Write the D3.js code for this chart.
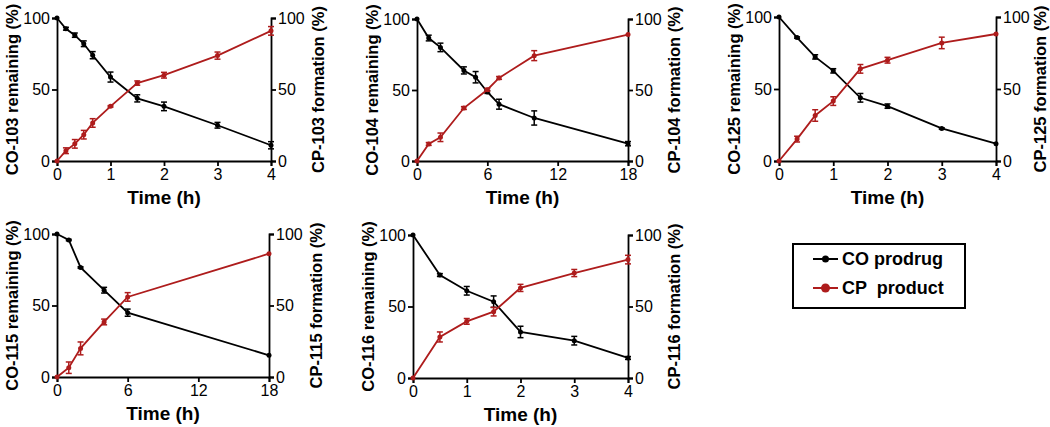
<!DOCTYPE html>
<html>
<head>
<meta charset="utf-8">
<script src="https://cdn.jsdelivr.net/npm/d3@7"></script>
<style>
  html, body { margin: 0; padding: 0; background: #fff; }
  svg { display: block; font-family: "Liberation Sans", Arial, sans-serif; }
</style>
</head>
<body>
<svg id="chart" width="1050" height="427"></svg>
<script>
// ---- Data ----
const t103 = [0, 0.167, 0.333, 0.5, 0.667, 1, 1.5, 2, 3, 4];
const co103 = [100, 92.5, 88, 82, 74, 58.7, 43.8, 38.2, 25, 11];
const co103Err = [0, 1, 1.5, 2, 2.5, 3.5, 2.5, 3, 2, 2.5];
const cp103 = [0, 7.2, 12, 18.4, 26.6, 38.2, 54.5, 60, 73.7, 91];
const cp103Err = [0, 2, 3, 3, 3, 0.5, 1.5, 2, 2.5, 3];

const t104 = [0, 1, 2, 4, 5, 6, 7, 10, 18];
const co104 = [100, 86.6, 80, 63.8, 59, 48.6, 40, 30.3, 12.2];
const co104Err = [0, 2, 3, 2.5, 4, 1, 3.5, 5, 1.5];
const t104cp = [0, 1, 2, 4, 6, 7, 10, 18];
const cp104 = [0, 12, 16.7, 37.3, 50.2, 58.5, 74.2, 89];
const cp104Err = [0, 1, 3, 1, 1, 1, 3.5, 0];

const t125 = [0, 0.333, 0.667, 1, 1.5, 2, 3, 4];
const co125 = [100, 85.7, 72.3, 62.6, 43.9, 38.1, 22.6, 12];
const co125Err = [0, 0.5, 1.5, 1.5, 3, 1.5, 0.5, 0];
const cp125 = [0, 15.2, 31.6, 41.6, 64, 70, 82, 88.2];
const cp125Err = [0, 2, 4, 3, 3, 2, 4, 0];

const t115 = [0, 1, 2, 4, 6, 18];
const co115 = [100, 95.8, 76.6, 60.7, 45, 15.2];
const co115Err = [0, 0.5, 0.5, 2, 2.5, 0];
const cp115 = [0, 6.5, 20, 38.5, 56, 86.2];
const cp115Err = [0, 4, 4.5, 2, 3, 0];

const t116 = [0, 0.5, 1, 1.5, 2, 3, 4];
const co116 = [100, 72, 61, 53.4, 32.2, 26.1, 14];
const co116Err = [0, 1, 3, 4, 4, 3, 1];
const cp116 = [0, 28.7, 39.6, 46.4, 63, 73.4, 82.8];
const cp116Err = [0, 3.5, 2, 3, 2.5, 2.5, 3];

const xTicks4 = [0, 1, 2, 3, 4];
const xTicks18 = [0, 6, 12, 18];
const yTicks = [0, 50, 100];

const legendLabels = ["CO prodrug", "CP  product"];
const xTitle = "Time (h)";

// ---- Style ----
const BLACK = "#000000";
const RED = "#AE1C1C";

const panels = [
  { id: "103", xmax: 4, xt: xTicks4, tco: t103, co: co103, coE: co103Err, tcp: t103, cp: cp103, cpE: cp103Err,
    box: { x0: 57, x1: 271, y0: 18, y1: 161 }, rOff: 47 },
  { id: "104", xmax: 18, xt: xTicks18, tco: t104, co: co104, coE: co104Err, tcp: t104cp, cp: cp104, cpE: cp104Err,
    box: { x0: 417, x1: 628, y0: 19, y1: 161 }, rOff: 46 },
  { id: "125", xmax: 4, xt: xTicks4, tco: t125, co: co125, coE: co125Err, tcp: t125, cp: cp125, cpE: cp125Err,
    box: { x0: 779, x1: 996, y0: 17, y1: 161 }, rOff: 44 },
  { id: "115", xmax: 18, xt: xTicks18, tco: t115, co: co115, coE: co115Err, tcp: t115, cp: cp115, cpE: cp115Err,
    box: { x0: 57, x1: 269, y0: 234, y1: 377 }, rOff: 47 },
  { id: "116", xmax: 4, xt: xTicks4, tco: t116, co: co116, coE: co116Err, tcp: t116, cp: cp116, cpE: cp116Err,
    box: { x0: 413, x1: 628, y0: 235, y1: 378 }, rOff: 46 }
];

const svg = d3.select("#chart");

panels.forEach(p => {
  const b = p.box;
  const x = d3.scaleLinear().domain([0, p.xmax]).range([b.x0, b.x1]);
  const y = d3.scaleLinear().domain([0, 100]).range([b.y1, b.y0]);
  const g = svg.append("g");

  const styleAxis = sel => {
    sel.select(".domain").attr("stroke", "#000").attr("stroke-width", 1.8);
    sel.selectAll(".tick line").attr("stroke", "#000").attr("stroke-width", 1.8);
    sel.selectAll(".tick text").attr("fill", "#000").style("font-size", "16px")
      .style("font-family", "'Liberation Sans', Arial, sans-serif");
  };
  g.append("g").attr("transform", `translate(0,${b.y1})`)
    .call(d3.axisBottom(x).tickValues(p.xt).tickFormat(d3.format("d")).tickSizeOuter(0).tickSize(5).tickPadding(3))
    .call(styleAxis);
  g.append("g").attr("transform", `translate(${b.x0},0)`)
    .call(d3.axisLeft(y).tickValues(yTicks).tickFormat(d3.format("d")).tickSizeOuter(0).tickSize(5).tickPadding(2))
    .call(styleAxis);
  g.append("g").attr("transform", `translate(${b.x1},0)`)
    .call(d3.axisRight(y).tickValues(yTicks).tickFormat(d3.format("d")).tickSizeOuter(0).tickSize(5).tickPadding(2))
    .call(styleAxis);

  const yc = (b.y0 + b.y1) / 2;
  g.append("text").attr("transform", `translate(${b.x0 - 45},${yc}) rotate(-90)`)
    .attr("text-anchor", "middle").attr("dy", "0.35em")
    .style("font-size", "16.5px").style("font-weight", "bold")
    .text(`CO-${p.id} remaining (%)`);
  g.append("text").attr("transform", `translate(${b.x1 + p.rOff},${yc}) rotate(-90)`)
    .attr("text-anchor", "middle").attr("dy", "0.35em")
    .style("font-size", "16.5px").style("font-weight", "bold")
    .text(`CP-${p.id} formation (%)`);
  g.append("text").attr("x", (b.x0 + b.x1) / 2).attr("y", b.y1 + 43)
    .attr("text-anchor", "middle")
    .style("font-size", "19px").style("font-weight", "bold")
    .text(xTitle);

  const drawSeries = (ts, vals, errs, color) => {
    const data = ts.map((t, i) => ({ t, v: vals[i], e: errs[i] }));
    const line = d3.line().x(d => x(d.t)).y(d => y(d.v));
    g.append("path").datum(data).attr("d", line)
      .attr("fill", "none").attr("stroke", color).attr("stroke-width", 1.8);
    const eb = g.append("g").attr("stroke", color).attr("stroke-width", 1.5);
    data.filter(d => d.e > 0).forEach(d => {
      const cx = x(d.t), yt = y(d.v + d.e), yb = y(d.v - d.e);
      eb.append("line").attr("x1", cx).attr("x2", cx).attr("y1", yt).attr("y2", yb);
      eb.append("line").attr("x1", cx - 3).attr("x2", cx + 3).attr("y1", yt).attr("y2", yt);
      eb.append("line").attr("x1", cx - 3).attr("x2", cx + 3).attr("y1", yb).attr("y2", yb);
    });
    g.append("g").selectAll("circle").data(data).join("circle")
      .attr("cx", d => x(d.t)).attr("cy", d => y(d.v)).attr("r", 2.5).attr("fill", color);
  };
  drawSeries(p.tco, p.co, p.coE, BLACK);
  drawSeries(p.tcp, p.cp, p.cpE, RED);
});

// ---- Legend ----
const lg = svg.append("g");
lg.append("rect").attr("x", 793).attr("y", 244).attr("width", 172).attr("height", 64)
  .attr("fill", "#fff").attr("stroke", "#000").attr("stroke-width", 2);
[BLACK, RED].forEach((c, i) => {
  const yy = 259 + i * 29;
  lg.append("line").attr("x1", 813).attr("x2", 838).attr("y1", yy).attr("y2", yy)
    .attr("stroke", c).attr("stroke-width", 2);
  lg.append("circle").attr("cx", 825.5).attr("cy", yy).attr("r", i === 0 ? 3.5 : 4.5).attr("fill", c);
  lg.append("text").attr("x", 842).attr("y", yy).attr("dy", "0.36em")
    .style("font-size", "18px").style("font-weight", "bold").style("white-space", "pre")
    .attr("xml:space", "preserve")
    .text(legendLabels[i]);
});
</script>
</body>
</html>
